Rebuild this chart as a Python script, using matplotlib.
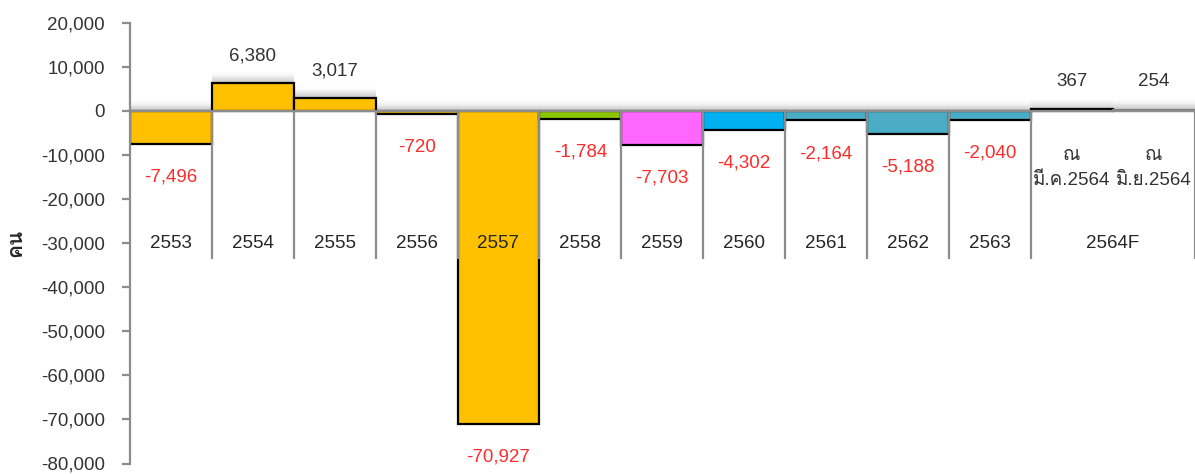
import numpy as np
import matplotlib
matplotlib.use("Agg")
import matplotlib.pyplot as plt
from matplotlib import font_manager
from matplotlib.ft2font import FT2Font

# Data
years = ["2553", "2554", "2555", "2556", "2557", "2558", "2559", "2560",
         "2561", "2562", "2563", "2564a", "2564b"]
values = [-7496, 6380, 3017, -720, -70927, -1784, -7703, -4302,
          -2164, -5188, -2040, 367, 254]
bar_colors = ["#FFC000", "#FFC000", "#FFC000", "#FFC000", "#FFC000", "#8CC600",
              "#FF66FF", "#00B0F0", "#4BACC6", "#4BACC6", "#4BACC6", "#FFFFFF", "#FFFFFF"]
cat_labels = ["2553", "2554", "2555", "2556", "2557", "2558", "2559", "2560",
              "2561", "2562", "2563"]
forecast_label = "2564F"
forecast_sub = ["ณ\nมี.ค.2564", "ณ\nมิ.ย.2564"]
yticks = list(range(-80000, 20001, 10000))

# find a font with Thai glyphs
thai = []
for f in font_manager.fontManager.ttflist:
    try:
        if FT2Font(f.fname).get_char_index(0x0E04) and f.name not in thai:
            thai.append(f.name)
    except Exception:
        pass
plt.rcParams["font.family"] = ["Liberation Sans"] + thai + ["DejaVu Sans"]

TXT = "#333333"
RED = "#FF2A2A"
GRID = "#8C8C8C"
FS = 13.5

fig = plt.figure(figsize=(11.95, 4.74), dpi=100)
ax = fig.add_axes([130 / 1195, 1 - 463.5 / 474, 1064.5 / 1195, (463.5 - 22.7) / 474])

x = np.arange(len(values))
tops = np.maximum(values, 0)

# soft shadow above each bar
n_steps = 12
for k in range(n_steps):
    ax.bar(x, 200, bottom=tops + k * 200, width=1.0, color="#707070",
           alpha=0.38 * (1 - k / n_steps) ** 1.5, lw=0, zorder=1)

edge = ["black"] * 12 + ["#808080"]
ax.bar(x, values, width=1.0, color=bar_colors, edgecolor=edge, lw=1.6, zorder=2)

# table-like separators under zero
table_bottom = -33700
for b in list(np.arange(0.5, 11.0, 1.0)) + [12.5]:
    ax.plot([b, b], [0, table_bottom], color=GRID, lw=1.6, zorder=3,
            solid_capstyle="butt", clip_on=False)
ax.axhline(0, color=GRID, lw=1.6, zorder=3)

# value labels
for i, v in enumerate(values[:11]):
    s = f"{v:,}"
    if v >= 0:
        ax.annotate(s, (i, v), xytext=(0, 19), textcoords="offset points",
                    ha="center", va="center", fontsize=FS, color=TXT, zorder=5)
    else:
        ax.annotate(s, (i, v), xytext=(0, -24), textcoords="offset points",
                    ha="center", va="center", fontsize=FS, color=RED, zorder=5)
for i, v in enumerate(values[11:], start=11):
    ax.annotate(f"{v:,}", (i, max(v, 0)), xytext=(0, 20), textcoords="offset points",
                ha="center", va="center", fontsize=FS, color=TXT, zorder=5)
    ax.text(i, -13000, forecast_sub[i - 11], ha="center", va="center",
            fontsize=FS, color=TXT, linespacing=1.6, zorder=5)

# category labels
for i, c in enumerate(cat_labels):
    ax.text(i, -30000, c, ha="center", va="center", fontsize=FS, color="#262626", zorder=5)
ax.text(11.5, -30000, forecast_label, ha="center", va="center", fontsize=FS,
        color="#262626", zorder=5)

ax.set_xlim(-0.5, 12.5)
ax.set_ylim(-80000, 20000)
ax.set_yticks(yticks)
ax.set_yticklabels([f"{t:,}" for t in yticks], fontsize=FS, color=TXT)
ax.set_xticks([])
ax.tick_params(axis="y", length=6, width=1.6, color=GRID, pad=12)
for side in ["top", "right", "bottom"]:
    ax.spines[side].set_visible(False)
ax.spines["left"].set_color(GRID)
ax.spines["left"].set_linewidth(1.6)
ax.spines["left"].set_zorder(4)

fig.text(16 / 1195, 1 - 243 / 474, "คน", rotation=90, ha="center", va="center",
         fontsize=15, fontweight="bold", color="#262626")

fig.savefig("out.png", dpi=100)
